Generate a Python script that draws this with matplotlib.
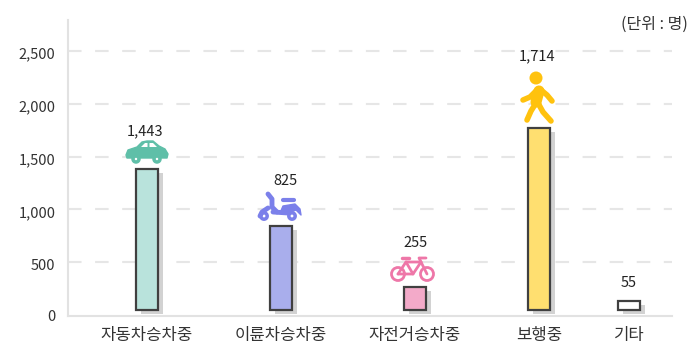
import matplotlib as mpl
mpl.use('Agg')
import matplotlib.pyplot as plt
from matplotlib.patches import Circle, Polygon
from matplotlib.transforms import ScaledTranslation

categories = ["자동차승차중", "이륜차승차중", "자전거승차중", "보행중", "기타"]
value_labels = ["1,443", "825", "255", "1,714", "55"]
# bar tops as drawn in the picture (not proportional to the labels)
bar_tops = [1382, 842, 265, 1770, 130]
bar_base = 47
x_pos = [147, 281, 415, 539, 629]
label_x = [145, 285, 416, 537, 629]
label_y = [1742, 1269, 680, 2450, 300]
y_ticks = [0, 500, 1000, 1500, 2000, 2500]
colors = ["#b9e3dc", "#a9aeec", "#f3aac9", "#ffdf70", "#ffffff"]

W, H = 697, 357
plt.rcParams['font.family'] = ['Noto Sans CJK KR', 'DejaVu Sans']
fig = plt.figure(figsize=(W/100, H/100), dpi=100)
ax = fig.add_axes([68/W, 1-316/H, (672-68)/W, (316-20)/H])
ax.set_xlim(68, 672)
ax.set_ylim(-9, 2794)

for sp in ["top", "right"]:
    ax.spines[sp].set_visible(False)
for sp in ["left", "bottom"]:
    ax.spines[sp].set_color("#e2e2e2")
    ax.spines[sp].set_linewidth(1.5)

ax.set_yticks(y_ticks)
ax.set_yticklabels([f"{v:,d}" for v in y_ticks], fontsize=10.5, color="#333333")
ax.set_xticks(x_pos)
ax.set_xticklabels(categories, fontsize=12, color="#333333")
ax.tick_params(axis='both', length=0)
ax.tick_params(axis='y', pad=9)
ax.tick_params(axis='x', pad=8)
down = ScaledTranslation(0, -2/100, fig.dpi_scale_trans)
for t in ax.get_yticklabels()[1:]:
    t.set_transform(t.get_transform() + down)
for v in y_ticks[1:]:
    ax.axhline(v, color="#e6e6e6", lw=1.5, dashes=(6.5, 6.5), zorder=1)

for x, top, c in zip(x_pos, bar_tops, colors):
    ax.bar(x+4.5, top-bar_base, width=22, bottom=bar_base-35, color="#d2d2d2", zorder=2)
    ax.bar(x, top-bar_base, width=22, bottom=bar_base, color=c, edgecolor="#404040", lw=1.6, zorder=3)
for lx, ly, lab in zip(label_x, label_y, value_labels):
    ax.text(lx, ly, lab, ha='center', va='center', fontsize=10.5, color="#222222", zorder=5)

fig.text(688/W, 1-24/H, "(단위 : 명)", ha='right', va='center', fontsize=11.5, color="#333333")

# icons, in picture pixels
ov = fig.add_axes([0, 0, 1, 1], facecolor='none')
ov.set_xlim(0, W)
ov.set_ylim(H, 0)
ov.axis('off')

def wheel(x, y, r, col, lw=2.5):
    ov.add_patch(Circle((x, y), r, fc='white', ec=col, lw=lw))

def limb(pts, col, lw):
    ov.plot([p[0] for p in pts], [p[1] for p in pts], color=col, lw=lw, solid_capstyle='round', solid_joinstyle='round')

# car
car = "#5fbfa8"
ov.add_patch(Polygon([(126, 155), (128, 150), (137, 147), (142, 142), (147, 141), (153, 141), (159, 146),
                      (165, 149), (168, 154), (167, 158), (127, 158)], fc=car, ec=car, lw=1, joinstyle='round'))
ov.add_patch(Polygon([(141, 147), (145, 143), (147.5, 143), (147.5, 147)], fc='white', ec='none'))
ov.add_patch(Polygon([(149.5, 143), (153, 143), (157, 147), (149.5, 147)], fc='white', ec='none'))
wheel(136, 159, 3, car)
wheel(157, 159, 3, car)

# scooter
sc = "#7b80ea"
limb([(268, 194), (272, 199), (272, 207), (277, 212)], sc, 3.5)
limb([(268, 208), (262, 212), (260, 216)], sc, 3.5)
limb([(273, 212), (288, 213)], sc, 3.5)
limb([(283, 200), (294, 200)], sc, 3)
ov.add_patch(Polygon([(280, 213), (283, 206), (295, 204), (300, 209), (301, 215), (296, 210), (289, 213)],
                     fc=sc, ec=sc, lw=1, joinstyle='round'))
wheel(264, 216, 3.2, sc)
wheel(292, 216, 3.2, sc)

# bicycle
bk = "#ee77a8"
wheel(398, 274, 6.5, bk, 2)
wheel(427, 274, 6.5, bk, 2)
limb([(398, 274), (406, 262), (421, 262), (427, 274)], bk, 2)
limb([(398, 274), (413, 274), (421, 262)], bk, 2)
limb([(406, 262), (413, 274)], bk, 2)
limb([(402, 258), (409, 258)], bk, 2.5)
limb([(421, 262), (419, 258), (426, 258)], bk, 2)

# walker
wk = "#ffc20e"
ov.add_patch(Circle((536, 78), 6.5, fc=wk, ec='none'))
limb([(539, 91), (536, 102)], wk, 8)
limb([(537, 90), (530, 97), (523, 100)], wk, 4)
limb([(541, 90), (547, 95), (552, 101)], wk, 4)
limb([(536, 103), (531, 111), (527, 120)], wk, 4)
limb([(538, 103), (543, 112), (551, 121)], wk, 4)

fig.savefig("out.png", dpi=100)
